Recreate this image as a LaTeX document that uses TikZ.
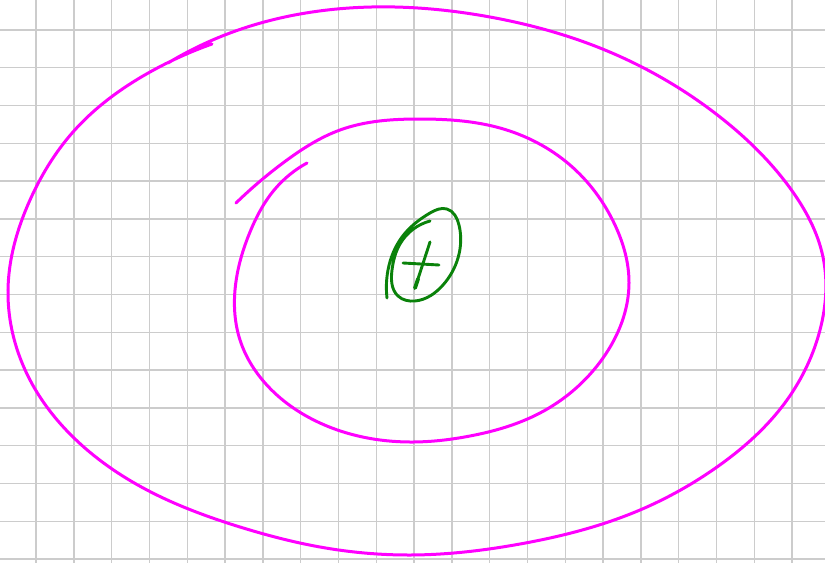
\documentclass[tikz,border=0pt]{standalone}
\usetikzlibrary{hobby}
\begin{document}
\begin{tikzpicture}[x=1pt,y=-1pt,
  gridline/.style={draw=black!20,line width=1.4pt},
  pinkstroke/.style={draw={rgb,255:red,255;green,0;blue,255},line width=3pt,line cap=round,line join=round,use Hobby shortcut},
  greenstroke/.style={draw={rgb,255:red,10;green,130;blue,10},line width=2.9pt,line cap=round,line join=round,use Hobby shortcut}]
\useasboundingbox (0,0) rectangle (825,563);
\fill[white] (0,0) rectangle (825,563);
% grid
\foreach \k in {0,...,20} \draw[gridline] ({36+37.8*\k},0) -- ({36+37.8*\k},563);
\foreach \k in {0,...,14} \draw[gridline] (0,{29.8+37.8*\k}) -- (825,{29.8+37.8*\k});
% outer loop
\draw[pinkstroke] (212,44) .. (150,72) .. (73,132) .. (30,200) .. (8,290)
 .. (30,380) .. (73,437) .. (147,490) .. (240,527) .. (320,547) .. (410,555)
 .. (520,544) .. (640,510) .. (717,467) .. (787,400) .. (820,330) .. (823,257)
 .. (790,188) .. (720,117) .. (600,48) .. (490,17) .. (395,7) .. (300,14)
 .. (230,33) .. (168,63);
% inner spiral
\draw[pinkstroke] (307,163) .. (275,189) .. (250,232) .. (235,290) .. (240,340)
 .. (265,383) .. (320,423) .. (410,442) .. (470,436) .. (540,413) .. (603,358)
 .. (629,283) .. (615,225) .. (570,165) .. (500,128) .. (420,119) .. (340,130)
 .. (287,160) .. (236,203);
% green loop
\draw[greenstroke] (387,298) .. (388,270) .. (402,237) .. (430,213) .. (447,209)
 .. (459,225) .. (458,258) .. (443,285) .. (415,301) .. (398,296)
 .. (392,270) .. (400,244) .. (430,221);
% plus sign
\draw[greenstroke] (403,263) -- (439,265);
\draw[greenstroke] (430,242) -- (415,288);
\draw[greenstroke,line width=3.8pt] (418,279) -- (415,288);
\end{tikzpicture}
\end{document}
